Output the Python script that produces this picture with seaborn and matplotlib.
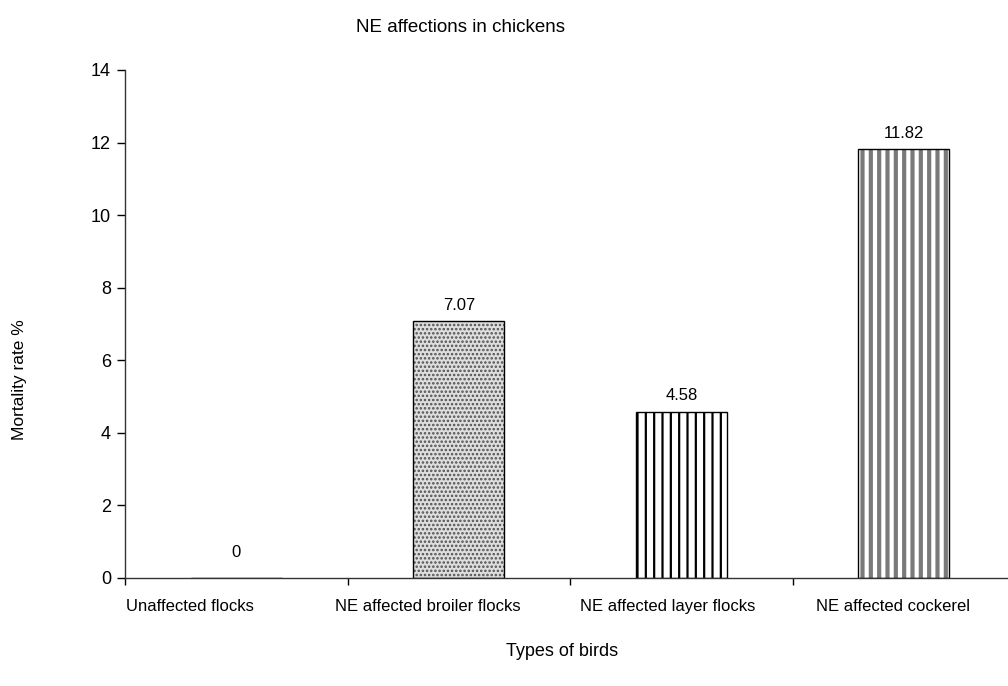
import matplotlib

matplotlib.use("Agg")
import matplotlib.patches as mpatches
import matplotlib.pyplot as plt
import matplotlib.transforms as mtransforms
import pandas as pd
import seaborn as sns
from matplotlib.ticker import FixedLocator

categories = [
    "Unaffected flocks",
    "NE affected broiler flocks",
    "NE affected layer flocks",
    "NE affected cockerel",
]
mortality = [0, 7.07, 4.58, 11.82]
value_labels = ["0", "7.07", "4.58", "11.82"]
y_ticks = [0, 2, 4, 6, 8, 10, 12, 14]

df = pd.DataFrame({"type": categories, "rate": mortality})

sns.set_style("white")
plt.rcParams["font.family"] = ["Liberation Sans", "DejaVu Sans"]
plt.rcParams["text.color"] = "black"
plt.rcParams["xtick.color"] = "black"
plt.rcParams["ytick.color"] = "black"
plt.rcParams["hatch.linewidth"] = 1.6

fig = plt.figure(figsize=(10.08, 6.86), dpi=100, facecolor="white")
ax = fig.add_axes([125 / 1008, 108 / 686, 890 / 1008, 508 / 686])

sns.barplot(data=df, x="type", y="rate", color="white", width=0.41,
            edgecolor="black", linewidth=1.0, saturation=1, ax=ax)

# Excel style pattern fills: (hatch, face colour, hatch colour, hatch width)
styles = [
    (None, "white", "black", 1.0),
    ("....", "#dedede", "#505050", 1.2),
    ("||", "white", "black", 1.6),
    ("||", "white", "#7a7a7a", 3.0),
]
for patch, (hatch, face, hc, hlw) in zip(list(ax.patches), styles):
    patch.set_facecolor(face)
    if hatch is None:
        continue
    patch.set_hatch(hatch)
    patch.set_edgecolor(hc)
    patch.set_linewidth(0)
    if hasattr(patch, "set_hatch_linewidth"):
        patch.set_hatch_linewidth(hlw)
    else:
        patch._hatch_linewidth = hlw
    outline = mpatches.Rectangle(patch.get_xy(), patch.get_width(), patch.get_height(),
                                 fill=False, edgecolor="black", linewidth=1.0, zorder=patch.get_zorder() + 0.1)
    ax.add_patch(outline)

texts = ax.bar_label(ax.containers[0], labels=value_labels, padding=6, fontsize=12, color="black")
texts[0].xyann = (0, 13)

ax.set_ylim(0, 14)
ax.set_xlim(-0.5, 3.5)
ax.set_yticks(y_ticks)
ax.tick_params(axis="y", length=6, width=1, color="black", labelsize=13, pad=4, left=True)
ax.tick_params(axis="x", which="major", length=0, pad=15)
ax.xaxis.set_minor_locator(FixedLocator([-0.5, 0.5, 1.5, 2.5]))
ax.tick_params(axis="x", which="minor", length=5, width=1, color="black", bottom=True)
ax.set_xlabel("")
ax.set_ylabel("")

label_shift = [-46, -31, -14, -11]
for lab, dx in zip(ax.get_xticklabels(), label_shift):
    lab.set_fontsize(12)
    lab.set_transform(lab.get_transform() + mtransforms.ScaledTranslation(dx / 100, 0, fig.dpi_scale_trans))

sns.despine(ax=ax)
for s in ["left", "bottom"]:
    ax.spines[s].set_color("#333333")
    ax.spines[s].set_linewidth(1.0)

fig.text(460 / 1008, 1 - 28 / 686, "NE affections in chickens", ha="center", va="center", fontsize=13.5)
fig.text(562 / 1008, 1 - 652 / 686, "Types of birds", ha="center", va="center", fontsize=13)
fig.text(20 / 1008, 1 - 380 / 686, "Mortality rate %", ha="center", va="center", rotation=90, fontsize=12.5)

fig.savefig("out.png", dpi=100, facecolor="white")
